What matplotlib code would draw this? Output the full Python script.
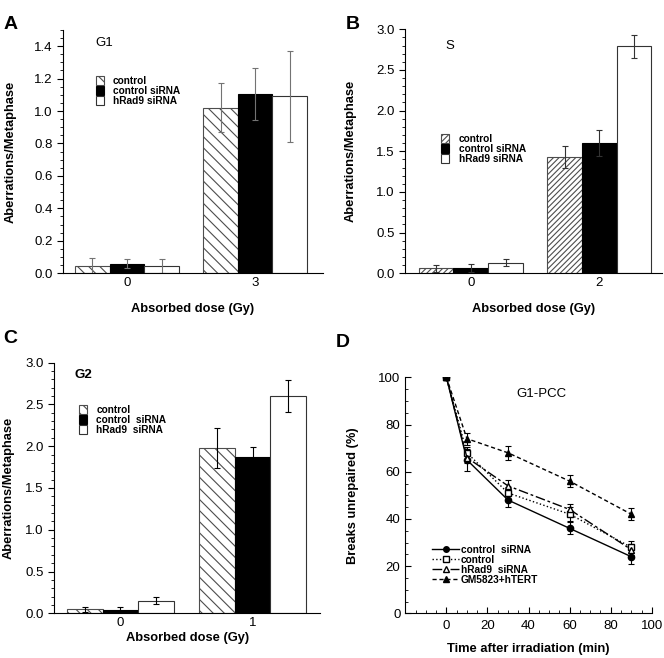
import matplotlib
matplotlib.use('Agg')
import matplotlib.pyplot as plt
from matplotlib.ticker import MultipleLocator
from matplotlib.lines import Line2D
import numpy as np

plt.rcParams['font.family'] = ['Liberation Sans', 'DejaVu Sans']
plt.rcParams['hatch.linewidth'] = 0.8

# ---- data ----
groups_ab = ['control', 'control siRNA', 'hRad9 siRNA']
groups_c = ['control', 'control  siRNA', 'hRad9  siRNA']

# A: G1
dose_a = ['0', '3']
ctrl_a = [0.045, 1.02]
ctrl_a_err = [0.05, 0.15]
si_a = [0.06, 1.105]
si_a_err = [0.025, 0.16]
rad9_a = [0.045, 1.09]
rad9_a_err = [0.045, 0.28]

# B: S
dose_b = ['0', '2']
ctrl_b = [0.06, 1.43]
ctrl_b_err = [0.04, 0.13]
si_b = [0.07, 1.60]
si_b_err = [0.05, 0.16]
rad9_b = [0.13, 2.79]
rad9_b_err = [0.04, 0.14]

# C: G2
dose_c = ['0', '1']
ctrl_c = [0.05, 1.98]
ctrl_c_err = [0.03, 0.24]
si_c = [0.045, 1.87]
si_c_err = [0.035, 0.12]
rad9_c = [0.15, 2.60]
rad9_c_err = [0.04, 0.19]

# D: G1-PCC repair kinetics
time_d = [0, 10, 30, 60, 90]
si_d = [100, 65, 48, 36, 24]
si_d_err = [0, 4.5, 3, 2.5, 3]
ctrl_d = [100, 68, 51, 42, 28]
ctrl_d_err = [0, 2.5, 2.5, 3, 2.5]
rad9_d = [100, 66, 54, 44, 27]
rad9_d_err = [0, 2.5, 2.5, 2.5, 2.5]
gm_d = [100, 74, 68, 56, 42]
gm_d_err = [0, 2.5, 3, 2.5, 2.5]

TICK_FS = 9.5
LAB_FS = 9.3
LEG_FS = 7.3

fig = plt.figure(figsize=(6.64, 6.58), dpi=100)

def bar_panel(ax, ticks, ctrl, ctrl_err, si, si_err, rad9, rad9_err,
              labels, hatch, ylim, major, minor, ecol, xlim):
    x = np.arange(len(ticks))
    w = 0.27
    ekw = dict(ecolor=ecol, elinewidth=0.8, capsize=2, capthick=0.8)
    ax.bar(x - w, ctrl, w, yerr=ctrl_err, color='white', edgecolor='0.3',
           hatch=hatch, linewidth=0.8, label=labels[0], error_kw=ekw)
    ax.bar(x, si, w, yerr=si_err, color='black', edgecolor='black',
           linewidth=0.8, label=labels[1], error_kw=ekw)
    ax.bar(x + w, rad9, w, yerr=rad9_err, color='white', edgecolor='0.2',
           linewidth=0.8, label=labels[2], error_kw=ekw)
    ax.set_xlim(*xlim)
    ax.set_ylim(*ylim)
    ax.set_xticks(x)
    ax.set_xticklabels(ticks)
    ax.tick_params(axis='x', length=0, labelsize=TICK_FS, pad=3)
    ax.yaxis.set_major_locator(MultipleLocator(major))
    ax.yaxis.set_minor_locator(MultipleLocator(minor))
    ax.yaxis.set_major_formatter(plt.FormatStrFormatter('%.1f'))
    ax.tick_params(axis='y', which='major', direction='out', length=4, labelsize=TICK_FS)
    ax.tick_params(axis='y', which='minor', direction='out', length=2)
    for s in ['top', 'right']:
        ax.spines[s].set_visible(False)
    for s in ['left', 'bottom']:
        ax.spines[s].set_linewidth(0.8)
    ax.set_ylabel('Aberrations/Metaphase', fontweight='bold', fontsize=LAB_FS)


def bar_legend(ax, x0, y0):
    ax.legend(loc='upper left', bbox_to_anchor=(x0, y0), frameon=False,
              prop={'weight': 'bold', 'size': LEG_FS}, handlelength=0.8,
              handleheight=1.0, labelspacing=0.0, handletextpad=0.9,
              borderpad=0, borderaxespad=0)

# Panel A
axA = fig.add_axes([0.0949, 0.5847, 0.3916, 0.3698])
bar_panel(axA, dose_a, ctrl_a, ctrl_a_err, si_a, si_a_err, rad9_a, rad9_a_err,
          groups_ab, '\\\\\\', (0, 1.5), 0.2, 0.05, '0.45', (-0.5, 1.53))
axA.set_yticks(np.arange(0, 1.41, 0.2))
axA.set_xlabel('Absorbed dose (Gy)', fontweight='bold', fontsize=LAB_FS, labelpad=10)
axA.yaxis.set_label_coords(-0.177, 0.5)
axA.text(-0.25, 1.42, 'G1', fontsize=TICK_FS, va='center')
bar_legend(axA, 0.125, 0.81)

# Panel B
axB = fig.add_axes([0.6104, 0.5847, 0.387, 0.3708])
bar_panel(axB, dose_b, ctrl_b, ctrl_b_err, si_b, si_b_err, rad9_b, rad9_b_err,
          groups_ab, '//////', (0, 3.0), 0.5, 0.1, '0.2', (-0.51, 1.49))
axB.set_xlabel('Absorbed dose (Gy)', fontweight='bold', fontsize=LAB_FS, labelpad=10)
axB.yaxis.set_label_coords(-0.188, 0.5)
axB.text(-0.2, 2.8, 'S', fontsize=TICK_FS, va='center')
bar_legend(axB, 0.14, 0.57)

# Panel C
axC = fig.add_axes([0.0818, 0.0679, 0.4001, 0.381])
bar_panel(axC, dose_c, ctrl_c, ctrl_c_err, si_c, si_c_err, rad9_c, rad9_c_err,
          groups_c, '\\\\\\', (0, 3.0), 0.5, 0.1, 'black', (-0.5, 1.51))
axC.set_xlabel('Absorbed dose (Gy)', fontweight='bold', fontsize=LAB_FS, labelpad=2)
axC.yaxis.set_label_coords(-0.148, 0.5)
axC.text(-0.35, 2.85, 'G2', fontsize=TICK_FS, fontweight='bold', va='center')
bar_legend(axC, 0.093, 0.83)

# Panel D
axD = fig.add_axes([0.6104, 0.0679, 0.3712, 0.3587])
ekw = dict(ecolor='black', elinewidth=0.8, capsize=2, capthick=0.8)
styles = [
    (si_d, si_d_err, 'control  siRNA', dict(ls='-', marker='o', mfc='black')),
    (ctrl_d, ctrl_d_err, 'control', dict(ls=':', marker='s', mfc='white')),
    (rad9_d, rad9_d_err, 'hRad9  siRNA', dict(dashes=(7, 2, 2, 2), marker='^', mfc='white')),
    (gm_d, gm_d_err, 'GM5823+hTERT', dict(dashes=(3, 2), marker='^', mfc='black')),
]
handles = []
for vals, errs, lab, st in styles:
    axD.errorbar(time_d, vals, yerr=errs, color='black', lw=1.0, ms=4.5,
                 mec='black', **st, **ekw)
    handles.append(Line2D([], [], color='black', lw=1.0, ms=4, mec='black',
                          label=lab, **st))
axD.set_xlim(-20, 100)
axD.set_ylim(0, 100)
axD.xaxis.set_minor_locator(MultipleLocator(5))
axD.yaxis.set_major_locator(MultipleLocator(20))
axD.yaxis.set_minor_locator(MultipleLocator(5))
axD.set_xticks([0, 20, 40, 60, 80, 100])
axD.tick_params(which='major', direction='in', length=4, labelsize=TICK_FS)
axD.tick_params(axis='x', pad=5)
axD.tick_params(which='minor', direction='in', length=2)
for s in ['top', 'right']:
    axD.spines[s].set_visible(False)
axD.set_xlabel('Time after irradiation (min)', fontweight='bold', fontsize=LAB_FS, labelpad=8)
axD.set_ylabel('Breaks unrepaired (%)', fontweight='bold', fontsize=LAB_FS)
axD.yaxis.set_label_coords(-0.186, 0.5)
axD.text(34, 93, 'G1-PCC', fontsize=TICK_FS, va='center')
axD.legend(handles=handles, loc='upper left', bbox_to_anchor=(0.11, 0.29),
           frameon=False, prop={'weight': 'bold', 'size': LEG_FS},
           handlelength=2.6, labelspacing=0.0, handletextpad=0.2,
           borderpad=0, borderaxespad=0)

# panel letters
for lab, (px, py) in zip('ABCD', [(0.005, 0.975), (0.52, 0.975), (0.005, 0.498), (0.505, 0.493)]):
    fig.text(px, py, lab, fontsize=14, fontweight='bold', va='top')

fig.savefig('out.png', dpi=100)
